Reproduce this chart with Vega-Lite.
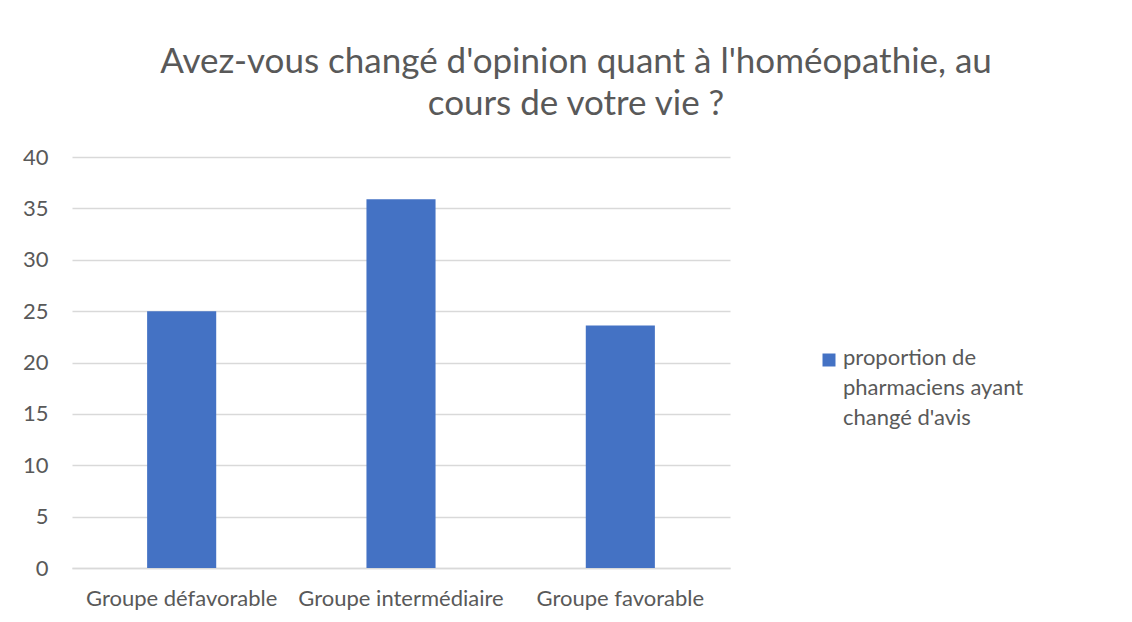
{
  "$schema": "https://vega.github.io/schema/vega-lite/v6.json",
  "autosize": {"type": "none"},
  "width": 658,
  "height": 411,
  "padding": {"left": 72, "top": 157, "right": 402, "bottom": 54},
  "background": "white",
  "title": {
    "text": ["Avez-vous changé d'opinion quant à l'homéopathie, au", "cours de votre vie ?"],
    "anchor": "middle",
    "frame": "group",
    "dx": 175,
    "offset": 24,
    "font": "Lato",
    "fontSize": 35,
    "fontWeight": "normal",
    "lineHeight": 42,
    "color": "#595959"
  },
  "data": {
    "values": [
      {"groupe": "Groupe défavorable", "valeur": 25.0, "serie": "proportion de pharmaciens ayant changé d'avis"},
      {"groupe": "Groupe intermédiaire", "valeur": 35.9, "serie": "proportion de pharmaciens ayant changé d'avis"},
      {"groupe": "Groupe favorable", "valeur": 23.6, "serie": "proportion de pharmaciens ayant changé d'avis"}
    ]
  },
  "mark": {"type": "bar"},
  "encoding": {
    "x": {
      "field": "groupe",
      "type": "nominal",
      "sort": null,
      "scale": {"paddingInner": 0.685, "paddingOuter": 0.3425},
      "axis": {
        "title": null,
        "labelAngle": 0,
        "labelFont": "Lato",
        "labelFontSize": 22,
        "labelColor": "#595959",
        "labelPadding": 20,
        "ticks": false,
        "domain": true,
        "domainColor": "#d9d9d9",
        "domainWidth": 1.5,
        "labelLimit": 300
      }
    },
    "y": {
      "field": "valeur",
      "type": "quantitative",
      "scale": {"domain": [0, 40], "nice": false},
      "axis": {
        "title": null,
        "values": [0, 5, 10, 15, 20, 25, 30, 35, 40],
        "labelFont": "Lato",
        "labelFontSize": 22,
        "labelColor": "#595959",
        "labelPadding": 24,
        "ticks": false,
        "domain": false,
        "gridColor": "#d9d9d9",
        "gridWidth": 1.5
      }
    },
    "color": {
      "field": "serie",
      "type": "nominal",
      "scale": {"range": ["#4472C4"]},
      "legend": {
        "title": null,
        "orient": "none",
        "legendX": 746,
        "legendY": 192,
        "symbolType": "square",
        "symbolSize": 169,
        "symbolStrokeWidth": 0,
        "labelFont": "Lato",
        "labelFontSize": 22,
        "labelColor": "#595959",
        "labelLimit": 300,
        "labelOffset": 3,
        "labelBaseline": "top",
        "labelExpr": "['proportion de', 'pharmaciens ayant', \"changé d'avis\"]",
        "labelOverlap": false,
        "encode": {"labels": {"update": {"lineHeight": {"value": 30}, "dy": {"value": -12}}}}
      }
    }
  },
  "config": {"view": {"stroke": null}}
}
